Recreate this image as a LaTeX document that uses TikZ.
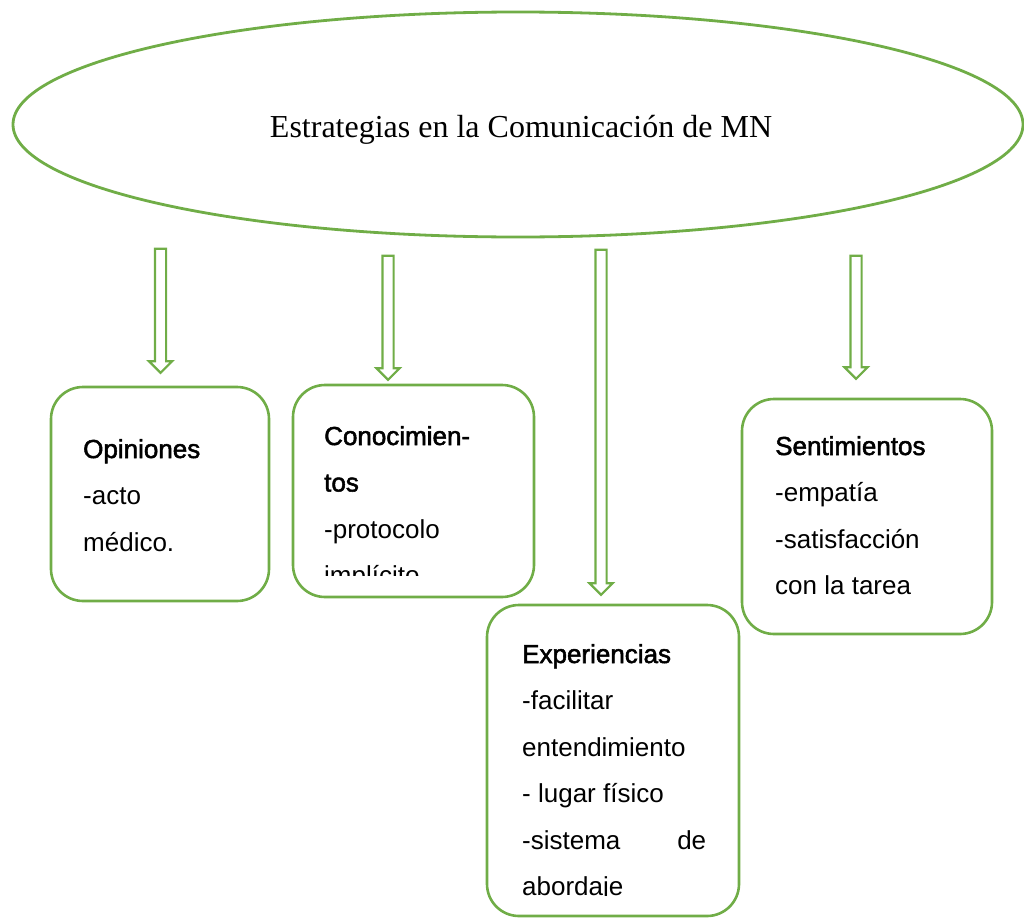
\documentclass[tikz,border=0pt]{standalone}
\usepackage{fontspec}
\setmainfont{Liberation Sans}[BoldFont={Liberation Sans}, BoldFeatures={FakeBold=2}]
\newfontfamily\titlefont{Liberation Serif}
\usetikzlibrary{shapes.geometric, shapes.arrows}
\definecolor{mngreen}{RGB}{112,173,71}

\tikzset{
  box/.style={draw=mngreen, line width=2.6pt, rounded corners=32pt, inner sep=0pt},
  txt/.style={anchor=base west, inner sep=0pt, font=\fontsize{26}{46.5}\selectfont},
  downarr/.style={single arrow, draw=mngreen, line width=2.2pt, rotate=-90,
    inner sep=4.5pt, single arrow head extend=6pt, single arrow head indent=0pt,
    single arrow tip angle=90}
}

\begin{document}
\begin{tikzpicture}[x=1pt, y=-1pt]
  \useasboundingbox (0, 0) rectangle (1024, 918);

  % main ellipse
  \node[ellipse, draw=mngreen, line width=2.8pt, minimum width=1010pt, minimum height=225pt, inner sep=0pt] (main) at (518, 124.5) {};
  \node[anchor=base, inner sep=0pt, font=\titlefont\fontsize{32}{38}\selectfont] (title) at (521, 137) {Estrategias en la Comunicación de MN};

  % arrows
  \node[downarr, minimum height=124pt] (arrOp) at (160.5, 308) {};
  \node[downarr, minimum height=124pt] (arrCon) at (388, 315) {};
  \node[downarr, minimum height=345pt] (arrExp) at (601, 419.5) {};
  \node[downarr, minimum height=123pt] (arrSen) at (856, 314.5) {};

  % boxes
  \node[box, minimum width=218pt, minimum height=214pt] (op) at (160, 494) {};
  \node[box, minimum width=241pt, minimum height=212pt] (con) at (413.5, 491) {};
  \node[box, minimum width=252pt, minimum height=311pt] (exp) at (613, 760.5) {};
  \node[box, minimum width=250pt, minimum height=235pt] (sen) at (867, 516.5) {};

  % texts
  \node[txt] (opTxt) at (83, 458) {\parbox[t]{170pt}{\textbf{Opiniones}\\-acto\\médico.}};
  \begin{scope}
    \clip (293, 385) rectangle (534, 575);
    \node[txt] (conTxt) at (324, 445) {\parbox[t]{190pt}{\textbf{Conocimien-}\\\textbf{tos}\\-protocolo\\implícito}};
  \end{scope}
  \begin{scope}
    \clip (487, 605) rectangle (739, 895);
    \node[txt] (expTxt) at (522, 663) {\parbox[t]{184pt}{\textbf{Experiencias}\\-facilitar\\entendimiento\\- lugar físico\\-sistema\hfill de\\abordaje}};
  \end{scope}
  \node[txt] (senTxt) at (775, 455) {\parbox[t]{190pt}{\textbf{Sentimientos}\\-empatía\\-satisfacción\\con la tarea}};
\end{tikzpicture}
\end{document}
